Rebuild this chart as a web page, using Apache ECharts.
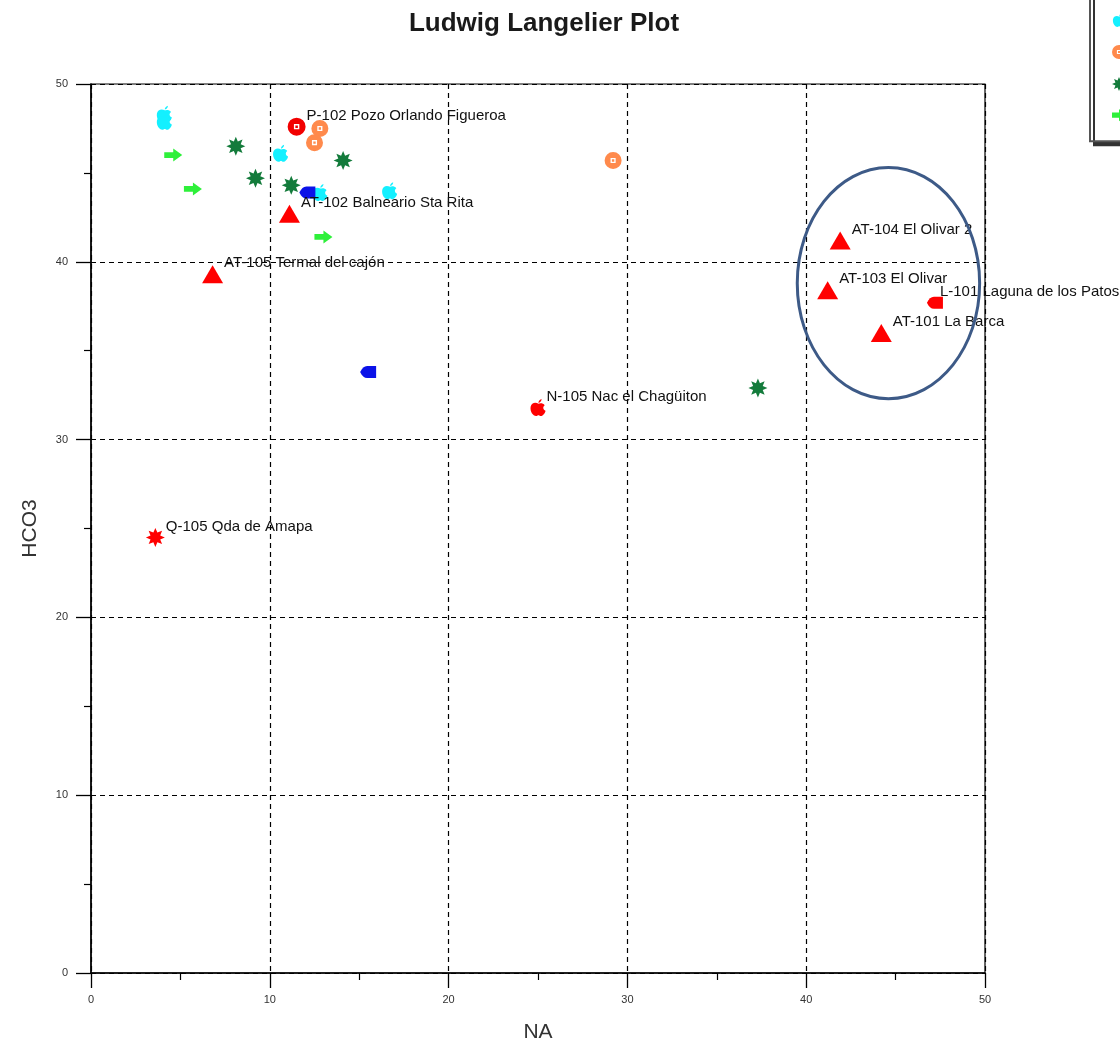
<!DOCTYPE html>
<html>
<head>
<meta charset="utf-8">
<title>Ludwig Langelier Plot</title>
<script src="https://cdn.jsdelivr.net/npm/echarts@6/dist/echarts.min.js"></script>
<style>
  html, body { margin: 0; padding: 0; background: #fff; }
  #chart { width: 1120px; height: 1048px; }
</style>
</head>
<body>
<div id="chart"></div>
<script>
// Axis ticks (NA on x, HCO3 on y)
const xTicks = [0, 10, 20, 30, 40, 50];
const yTicks = [0, 10, 20, 30, 40, 50];

// Unlabelled sample groups: [NA, HCO3]
const cyanGroup   = [[4.1, 48.3], [4.1, 47.9], [10.6, 46.1], [12.8, 43.9], [16.7, 44.0]];
const orangeGroup = [[12.8, 47.5], [12.5, 46.7], [29.2, 45.7]];
const darkGroup   = [[8.1, 46.5], [9.2, 44.7], [11.2, 44.3], [14.1, 45.7], [37.3, 32.9]];
const greenGroup  = [[4.6, 46.0], [5.7, 44.1], [13.0, 41.4]];
const blueGroup   = [[12.1, 43.9], [15.5, 33.8]];

// Labelled samples
const termalNames  = ['AT-102 Balneario Sta Rita', 'AT-105 Termal del cajón', 'AT-104 El Olivar 2', 'AT-103 El Olivar', 'AT-101 La Barca'];
const termalValues = [[11.1, 42.7], [6.8, 39.3], [41.9, 41.2], [41.2, 38.4], [44.2, 36.0]];
const pozoNames    = ['P-102 Pozo Orlando Figueroa'];
const pozoValues   = [[11.5, 47.6]];
const nacNames     = ['N-105 Nac el Chagüiton'];
const nacValues    = [[25.0, 31.8]];
const qdaNames     = ['Q-105 Qda de Amapa'];
const qdaValues    = [[3.6, 24.5]];
const lagunaNames  = ['L-101 Laguna de los Patos'];
const lagunaValues = [[47.2, 37.7]];

// Highlighted region (data units): centre and radii
const ringCentre = [44.6, 38.8];
const ringRadii  = [5.1, 6.5];

// ---- symbol shapes ----
function starPath(points, rOut, rIn) {
  let d = '';
  for (let i = 0; i < points * 2; i++) {
    const r = i % 2 === 0 ? rOut : rIn;
    const a = Math.PI * i / points - Math.PI / 2;
    const x = (rOut + r * Math.cos(a)).toFixed(2);
    const y = (rOut + r * Math.sin(a)).toFixed(2);
    d += (i === 0 ? 'M' : 'L') + x + ',' + y + ' ';
  }
  return 'path://' + d + 'Z';
}
const appleSym  = 'path://M12,6 C9,4 3,4 2,10 C1,16 5,22 9,22 C10,22 11,21 12,21 C13,21 14,22 15,22 C18,22 21,17 21,15 C18,14 17,10 20,8 C18,5 14,5 12,6 Z M12,5 C12,3 13,1 16,0 C16,2 15,4 12,5 Z';
const ringSym   = 'path://M10,0 A10,10 0 1,1 10,20 A10,10 0 1,1 10,0 Z M7,7 L7,13 L13,13 L13,7 Z M8.6,8.6 L11.4,8.6 L11.4,11.4 L8.6,11.4 Z';
const starSym   = starPath(8, 10, 5.5);
const arrowSym  = 'path://M0,4 L8,4 L8,0 L16,7 L8,14 L8,10 L0,10 Z';
const bulletSym = 'path://M0,6 C2,2 4,0 7,0 L16,0 L16,12 L7,12 C4,12 2,10 0,6 Z';

const FONT = '"Liberation Sans", Arial, sans-serif';

const labelStyle = {
  show: true,
  position: 'right',
  distance: 1,
  offset: [0, -11],
  formatter: p => p.name,
  color: '#111',
  fontSize: 15,
  fontFamily: FONT
};

function named(names, values) {
  return values.map((v, i) => ({ name: names[i], value: v }));
}

const chart = echarts.init(document.getElementById('chart'), null, { renderer: 'canvas' });

const axisCommon = {
  type: 'value',
  min: 0,
  max: 50,
  interval: 10,
  axisLine: { show: true, onZero: false, lineStyle: { color: '#000', width: 1.5 } },
  axisTick: { show: true, length: 15, lineStyle: { color: '#000', width: 1.3 } },
  minorTick: { show: true, splitNumber: 2, length: 7, lineStyle: { color: '#000', width: 1.2 } },
  splitLine: { show: true, lineStyle: { color: '#000', type: [5, 4], width: 1.2 } },
  nameTextStyle: { fontSize: 21, color: '#333', fontFamily: FONT },
  axisLabel: { fontSize: 11, color: '#333', fontFamily: FONT }
};

function scatter(name, data, symbol, size, color, label) {
  const s = {
    name, type: 'scatter', data, symbol, symbolSize: size,
    itemStyle: { color, opacity: 1 },
    emphasis: { disabled: true }
  };
  if (label) s.label = label;
  return s;
}

chart.setOption({
  animation: false,
  backgroundColor: '#fff',
  title: {
    text: 'Ludwig Langelier Plot',
    left: 539,
    top: 6,
    textAlign: 'center',
    textStyle: { fontSize: 26, fontWeight: 'bold', color: '#1a1a1a', fontFamily: FONT }
  },
  legend: {
    orient: 'vertical',
    left: 1090,
    top: -6,
    padding: [19, 10, 20, 22],
    itemWidth: 14,
    itemHeight: 14,
    itemGap: 18,
    backgroundColor: '#fff',
    borderColor: '#555',
    borderWidth: 2,
    shadowColor: '#333',
    shadowBlur: 0,
    shadowOffsetX: 4,
    shadowOffsetY: 4,
    data: ['Grupo 1', 'Grupo 2', 'Grupo 3', 'Grupo 4'],
    textStyle: { fontSize: 12, color: '#222' }
  },
  grid: {
    left: 91, right: 135, top: 84, bottom: 75,
    show: true, borderColor: '#000', borderWidth: 1.2, backgroundColor: 'transparent'
  },
  xAxis: Object.assign({}, axisCommon, {
    name: 'NA',
    nameLocation: 'middle',
    nameGap: 49,
    axisLabel: Object.assign({}, axisCommon.axisLabel, { margin: 21 })
  }),
  yAxis: Object.assign({}, axisCommon, {
    name: 'HCO3',
    nameLocation: 'middle',
    nameGap: 50,
    axisLabel: Object.assign({}, axisCommon.axisLabel, { margin: 23 })
  }),
  series: [
    scatter('Grupo 1', cyanGroup, appleSym, [15, 17], '#14f0ff'),
    scatter('Grupo 2', orangeGroup, ringSym, 17, '#ff8a4c'),
    scatter('Grupo 3', darkGroup, starSym, 19, '#137b3b'),
    scatter('Grupo 4', greenGroup, arrowSym, [18, 13], '#2ef03a'),
    scatter('Grupo 5', blueGroup, bulletSym, [16, 12], '#0b12e8'),
    scatter('Termales', named(termalNames, termalValues), 'triangle', [21, 18], '#ff0000', labelStyle),
    scatter('Pozos', named(pozoNames, pozoValues), ringSym, 18, '#f20000', labelStyle),
    scatter('Nacientes', named(nacNames, nacValues), appleSym, [15, 17], '#ff0000', labelStyle),
    scatter('Quebradas', named(qdaNames, qdaValues), starSym, 19, '#ff0000', labelStyle),
    scatter('Lagunas', named(lagunaNames, lagunaValues), bulletSym, [16, 12], '#ff0000',
      Object.assign({}, labelStyle, { offset: [-4, -11] }))
  ]
});

// Outline around the high-NA thermal cluster, placed through the axis scales
const c  = chart.convertToPixel({ gridIndex: 0 }, ringCentre);
const ex = chart.convertToPixel({ gridIndex: 0 }, [ringCentre[0] + ringRadii[0], ringCentre[1]]);
const ey = chart.convertToPixel({ gridIndex: 0 }, [ringCentre[0], ringCentre[1] + ringRadii[1]]);
chart.setOption({
  graphic: [{
    type: 'ellipse',
    shape: { cx: c[0], cy: c[1], rx: Math.abs(ex[0] - c[0]), ry: Math.abs(c[1] - ey[1]) },
    style: { fill: 'none', stroke: '#3d5a87', lineWidth: 3 },
    z: 100
  }]
});
</script>
</body>
</html>
